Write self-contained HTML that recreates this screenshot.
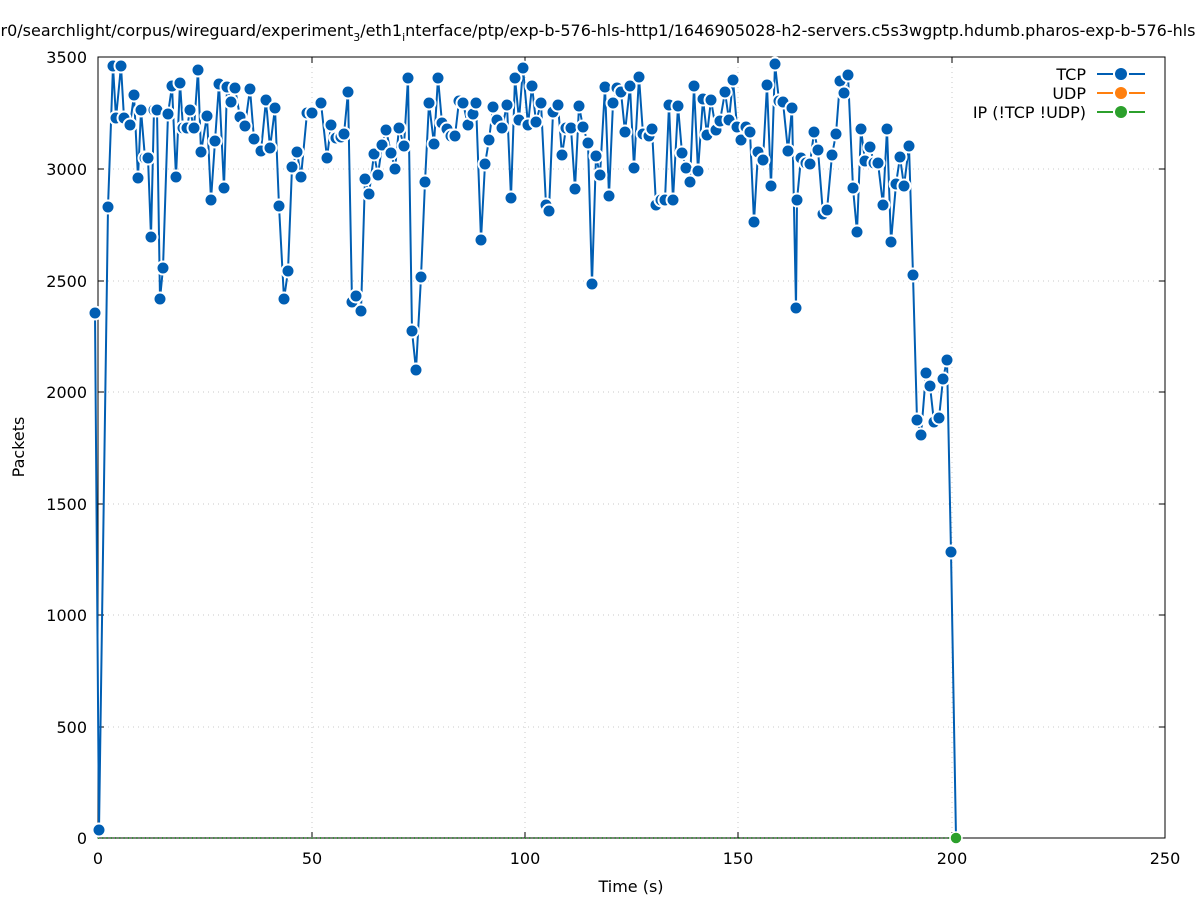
<!DOCTYPE html>
<html><head><meta charset="utf-8"><style>body{margin:0;background:#fff}svg{display:block}text{font-family:"DejaVu Sans","Liberation Sans",sans-serif;font-size:16px;fill:#000}</style></head>
<body>
<svg id="s" width="1197" height="900" xmlns="http://www.w3.org/2000/svg">
<rect width="1197" height="900" fill="#fff"/>
<g stroke="#c8c8c8" stroke-dasharray="1,4" stroke-width="1">
<line x1="98" y1="727" x2="1165" y2="727"/><line x1="98" y1="615" x2="1165" y2="615"/><line x1="98" y1="504" x2="1165" y2="504"/><line x1="98" y1="392" x2="1165" y2="392"/><line x1="98" y1="281" x2="1165" y2="281"/><line x1="98" y1="169" x2="1165" y2="169"/>
<line x1="312" y1="57" x2="312" y2="838"/><line x1="525" y1="57" x2="525" y2="838"/><line x1="738" y1="57" x2="738" y2="838"/><line x1="952" y1="57" x2="952" y2="838"/>
</g>
<rect x="98" y="57" width="1067" height="781" fill="none" stroke="#000" stroke-width="1"/>
<g stroke="#000">
<line x1="98" y1="727" x2="104" y2="727"/><line x1="98" y1="615" x2="104" y2="615"/><line x1="98" y1="504" x2="104" y2="504"/><line x1="98" y1="392" x2="104" y2="392"/><line x1="98" y1="281" x2="104" y2="281"/><line x1="98" y1="169" x2="104" y2="169"/>
<line x1="1165" y1="727" x2="1159" y2="727"/><line x1="1165" y1="615" x2="1159" y2="615"/><line x1="1165" y1="504" x2="1159" y2="504"/><line x1="1165" y1="392" x2="1159" y2="392"/><line x1="1165" y1="281" x2="1159" y2="281"/><line x1="1165" y1="169" x2="1159" y2="169"/>
<line x1="312" y1="838" x2="312" y2="832"/><line x1="525" y1="838" x2="525" y2="832"/><line x1="738" y1="838" x2="738" y2="832"/><line x1="952" y1="838" x2="952" y2="832"/>
<line x1="312" y1="57" x2="312" y2="63"/><line x1="525" y1="57" x2="525" y2="63"/><line x1="738" y1="57" x2="738" y2="63"/><line x1="952" y1="57" x2="952" y2="63"/>
</g>
<g text-anchor="end">
<text x="87" y="844">0</text><text x="87" y="733">500</text><text x="87" y="621">1000</text><text x="87" y="510">1500</text><text x="87" y="398">2000</text><text x="87" y="287">2500</text><text x="87" y="175">3000</text><text x="87" y="63">3500</text>
</g>
<g text-anchor="middle">
<text x="98" y="864">0</text><text x="312" y="864">50</text><text x="525" y="864">100</text><text x="738" y="864">150</text><text x="952" y="864">200</text><text x="1165" y="864">250</text>
<text x="631" y="892">Time (s)</text>
<text x="598" y="36">r0/searchlight/corpus/wireguard/experiment<tspan font-size="11" dy="5">3</tspan><tspan dy="-5">/eth1</tspan><tspan font-size="11" dy="5">i</tspan><tspan dy="-5">nterface/ptp/exp-b-576-hls-http1/1646905028-h2-servers.c5s3wgptp.hdumb.pharos-exp-b-576-hls</tspan></text>
</g>
<text transform="translate(24,447) rotate(-90)" text-anchor="middle">Packets</text>
<line x1="98" y1="838" x2="956" y2="838" stroke="#2ca02c" stroke-width="2" stroke-dasharray="1,3.27"/>
<g id="d"></g>
<g text-anchor="end">
<text x="1086" y="80">TCP</text><text x="1086" y="99">UDP</text><text x="1086" y="118">IP (!TCP  !UDP)</text>
</g>
<g stroke-width="2">
<line x1="1097" y1="74" x2="1145" y2="74" stroke="#005eb3" stroke-dasharray="16,16"/><circle cx="1121" cy="74" r="6" fill="#005eb3"/>
<line x1="1097" y1="93" x2="1145" y2="93" stroke="#ff7f0e" stroke-dasharray="16,16"/><circle cx="1121" cy="93" r="6" fill="#ff7f0e"/>
<line x1="1097" y1="112" x2="1145" y2="112" stroke="#2ca02c" stroke-dasharray="16,16"/><circle cx="1121" cy="112" r="6" fill="#2ca02c"/>
</g>
</svg>
<script>
var p=[95,313,99,830,108,207,113,66,116,118,121,66,124,118,130,125,134,95,138,178,141,110,145,158,148,158,151,237,154,110,157,110,160,299,163,268,168,114,172,86,176,177,180,83,183,128,187,128,190,110,194,128,198,70,201,152,207,116,211,200,215,141,219,84,224,188,227,87,231,102,235,88,240,117,245,126,250,89,254,139,261,151,266,100,270,148,275,108,279,206,284,299,288,271,292,167,297,152,301,177,307,113,312,113,321,103,327,158,331,125,336,138,341,137,344,134,348,92,352,302,356,296,361,311,365,179,369,194,374,154,378,175,382,145,386,130,391,153,395,169,399,128,404,146,408,78,412,331,416,370,421,277,425,182,429,103,434,144,438,78,442,123,447,129,451,136,455,136,459,101,463,103,468,125,473,114,476,103,481,240,485,164,489,140,493,107,497,120,502,128,507,105,511,198,515,78,519,120,523,68,528,125,532,86,536,122,541,103,546,205,549,211,553,112,558,105,562,155,566,128,571,128,575,189,579,106,583,127,588,143,592,284,596,156,600,175,605,87,609,196,613,103,617,88,621,92,625,132,630,86,634,168,639,77,643,134,649,136,652,129,656,205,661,200,665,200,669,105,673,200,678,106,682,153,686,168,690,182,694,86,698,171,703,99,707,135,711,100,716,130,720,121,725,92,729,120,733,80,737,127,741,140,746,127,750,132,754,222,758,152,763,160,767,85,771,186,775,64,779,101,783,102,788,151,792,108,796,308,797,200,801,158,806,163,810,164,814,132,818,150,823,214,827,210,832,155,836,134,840,81,844,93,848,75,853,188,857,232,861,129,865,161,870,147,874,163,878,163,883,205,887,129,891,242,896,184,900,157,904,186,909,146,913,275,917,420,921,435,926,373,930,386,934,422,939,418,943,379,947,360,951,552,956,838];
var s='',pts=[];for(var i=0;i<p.length;i+=2)pts.push(p[i]+','+p[i+1]);
s+='<polyline points="'+pts.join(' ')+'" fill="none" stroke="#005eb3" stroke-width="2"/>';
for(var i=0;i<p.length-2;i+=2)s+='<circle cx="'+p[i]+'" cy="'+p[i+1]+'" r="6.5" fill="#005eb3" stroke="#fff" stroke-width="2"/>';
s+='<circle cx="956" cy="838" r="6" fill="#2ca02c" stroke="#fff" stroke-width="1.5"/>';
document.getElementById('d').innerHTML=s;
</script>
</body></html>
